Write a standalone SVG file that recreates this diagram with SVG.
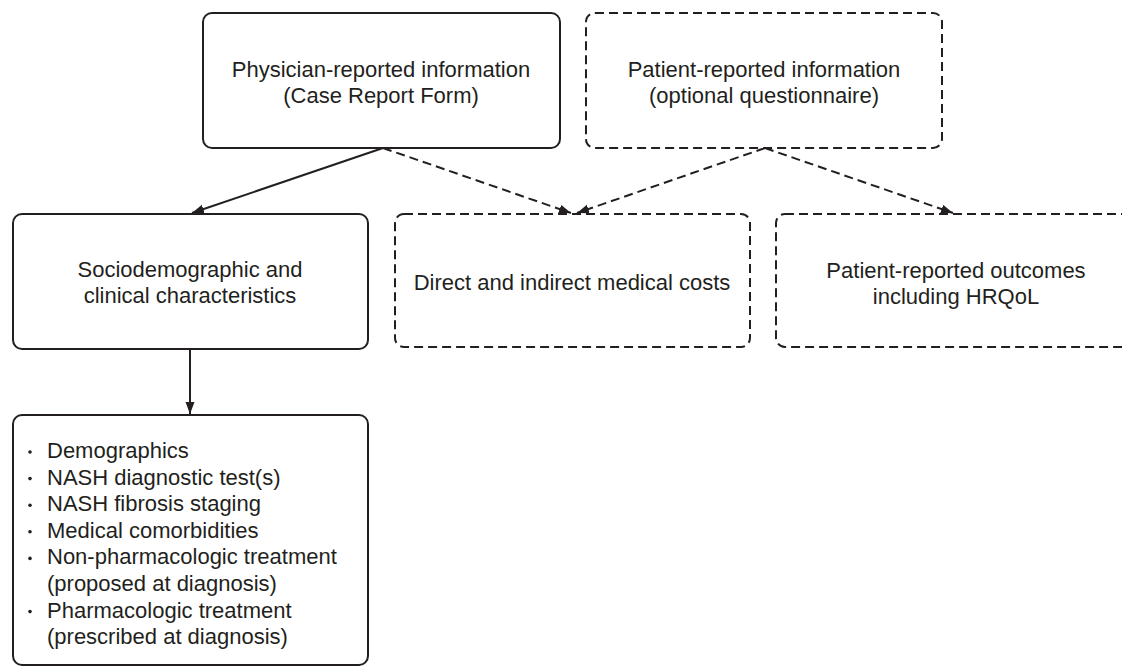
<svg xmlns="http://www.w3.org/2000/svg" width="1122" height="667" viewBox="0 0 1122 667">
<style>
.box{fill:#fff;stroke:#231f20;stroke-width:2}
.dash{stroke-dasharray:9 5}
.t{font-family:"Liberation Sans",Arial,sans-serif;font-size:22px;fill:#231f20;text-anchor:middle}
.l{font-family:"Liberation Sans",Arial,sans-serif;font-size:22px;fill:#231f20}
.b{fill:#231f20}
.c{fill:none;stroke:#231f20;stroke-width:2}
</style>
<defs>
<marker id="ah" markerUnits="userSpaceOnUse" markerWidth="13" markerHeight="10" refX="12" refY="4.5" orient="auto">
<path d="M0,0 L12,4.5 L0,9 z" fill="#231f20"/>
</marker>
</defs>
<rect width="1122" height="667" fill="#fff"/>
<g id="connectors">
<line class="c" x1="383" y1="148" x2="192" y2="213" marker-end="url(#ah)"/>
<line class="c dash" x1="383" y1="148" x2="571" y2="213" marker-end="url(#ah)"/>
<line class="c dash" x1="765" y1="148" x2="577" y2="213" marker-end="url(#ah)"/>
<line class="c dash" x1="765" y1="148" x2="953" y2="213" marker-end="url(#ah)"/>
<line class="c" x1="190" y1="349" x2="190" y2="414" marker-end="url(#ah)"/>
</g>
<g id="physician">
<rect class="box" x="203" y="13" width="357" height="135" rx="9"/>
<text class="t" x="381" y="77">Physician-reported information</text>
<text class="t" x="381" y="103">(Case Report Form)</text>
</g>
<g id="patient">
<rect class="box dash" x="586" y="13" width="356" height="135" rx="9"/>
<text class="t" x="764" y="77">Patient-reported information</text>
<text class="t" x="764" y="103">(optional questionnaire)</text>
</g>
<g id="socio">
<rect class="box" x="13" y="214" width="355" height="135" rx="9"/>
<text class="t" x="190" y="277">Sociodemographic and</text>
<text class="t" x="190" y="303">clinical characteristics</text>
</g>
<g id="costs">
<rect class="box dash" x="395" y="214" width="355" height="133" rx="9"/>
<text class="t" x="572" y="290">Direct and indirect medical costs</text>
</g>
<g id="pro">
<rect class="box dash" x="776" y="214" width="360" height="133" rx="9"/>
<text class="t" x="956" y="278">Patient-reported outcomes</text>
<text class="t" x="956" y="304">including HRQoL</text>
</g>
<g id="list">
<rect class="box" x="13" y="415" width="355" height="250" rx="9"/>
<circle class="b" cx="30" cy="452" r="1.8"/>
<text class="l" x="47" y="458">Demographics</text>
<circle class="b" cx="30" cy="478.6" r="1.8"/>
<text class="l" x="47" y="484.6">NASH diagnostic test(s)</text>
<circle class="b" cx="30" cy="505.2" r="1.8"/>
<text class="l" x="47" y="511.2">NASH fibrosis staging</text>
<circle class="b" cx="30" cy="531.8" r="1.8"/>
<text class="l" x="47" y="537.8">Medical comorbidities</text>
<circle class="b" cx="30" cy="558.4" r="1.8"/>
<text class="l" x="47" y="564.4">Non-pharmacologic treatment</text>
<text class="l" x="47" y="591">(proposed at diagnosis)</text>
<circle class="b" cx="30" cy="611.6" r="1.8"/>
<text class="l" x="47" y="617.6">Pharmacologic treatment</text>
<text class="l" x="47" y="644.2">(prescribed at diagnosis)</text>
</g>
</svg>
